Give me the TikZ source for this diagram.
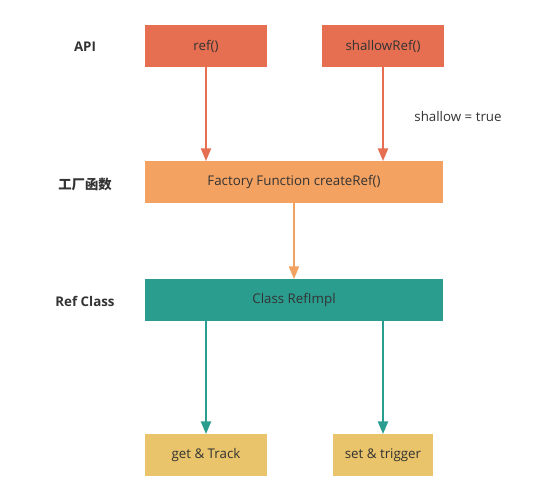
\documentclass[tikz,border=0pt]{standalone}
\usepackage{fontspec}
\setmainfont{Open Sans}
\newfontfamily\cjk{Noto Sans CJK SC}
\usetikzlibrary{arrows.meta}
\definecolor{coral}{HTML}{E76F51}
\definecolor{sand}{HTML}{F4A261}
\definecolor{teal}{HTML}{2A9D8F}
\definecolor{mustard}{HTML}{E9C46A}
\definecolor{txt}{HTML}{333333}
\begin{document}
\begin{tikzpicture}[x=0.75pt,y=-0.75pt,
  box/.style={rectangle, inner sep=0pt, text=txt, font=\fontsize{10}{12}\selectfont},
  lbl/.style={text=txt, font=\fontsize{10}{12}\selectfont\bfseries},
  conn/.style={line width=1.5pt, -{Triangle[width=7.5pt,length=9.5pt]}}]
\useasboundingbox (0,0) rectangle (543,501);
\fill[white] (0,0) rectangle (543,501);
\node[box, fill=coral, minimum width=91.5pt, minimum height=31pt] (ref) at (206,46) {ref()};
\node[box, fill=coral, minimum width=91.5pt, minimum height=31pt] (sref) at (383,46) {shallowRef()};
\node[box, fill=sand, minimum width=223.5pt, minimum height=31pt] (fac) at (294,182) {Factory Function createRef()};
\node[box, fill=teal, minimum width=223.5pt, minimum height=31pt] (cls) at (294,300) {Class RefImpl};
\node[box, fill=mustard, minimum width=91.5pt, minimum height=31pt] (get) at (206,455) {get \& Track};
\node[box, fill=mustard, minimum width=75pt, minimum height=31pt] (set) at (383,455) {set \& trigger};
\node[lbl] (api) at (85,47) {API};
\node[lbl] (fn) at (85,184) {\cjk 工厂函数};
\node[lbl] (rc) at (85,301) {Ref Class};
\node[text=txt, font=\fontsize{10}{12}\selectfont] (sh) at (458,116) {shallow = true};
\draw[conn, coral] (ref.south) -- (ref.south |- fac.north);
\draw[conn, coral] (sref.south) -- (sref.south |- fac.north);
\draw[conn, sand] (fac.south) -- (cls.north);
\draw[conn, teal] (get.north |- cls.south) -- (get.north);
\draw[conn, teal] (set.north |- cls.south) -- (set.north);
\end{tikzpicture}
\end{document}
